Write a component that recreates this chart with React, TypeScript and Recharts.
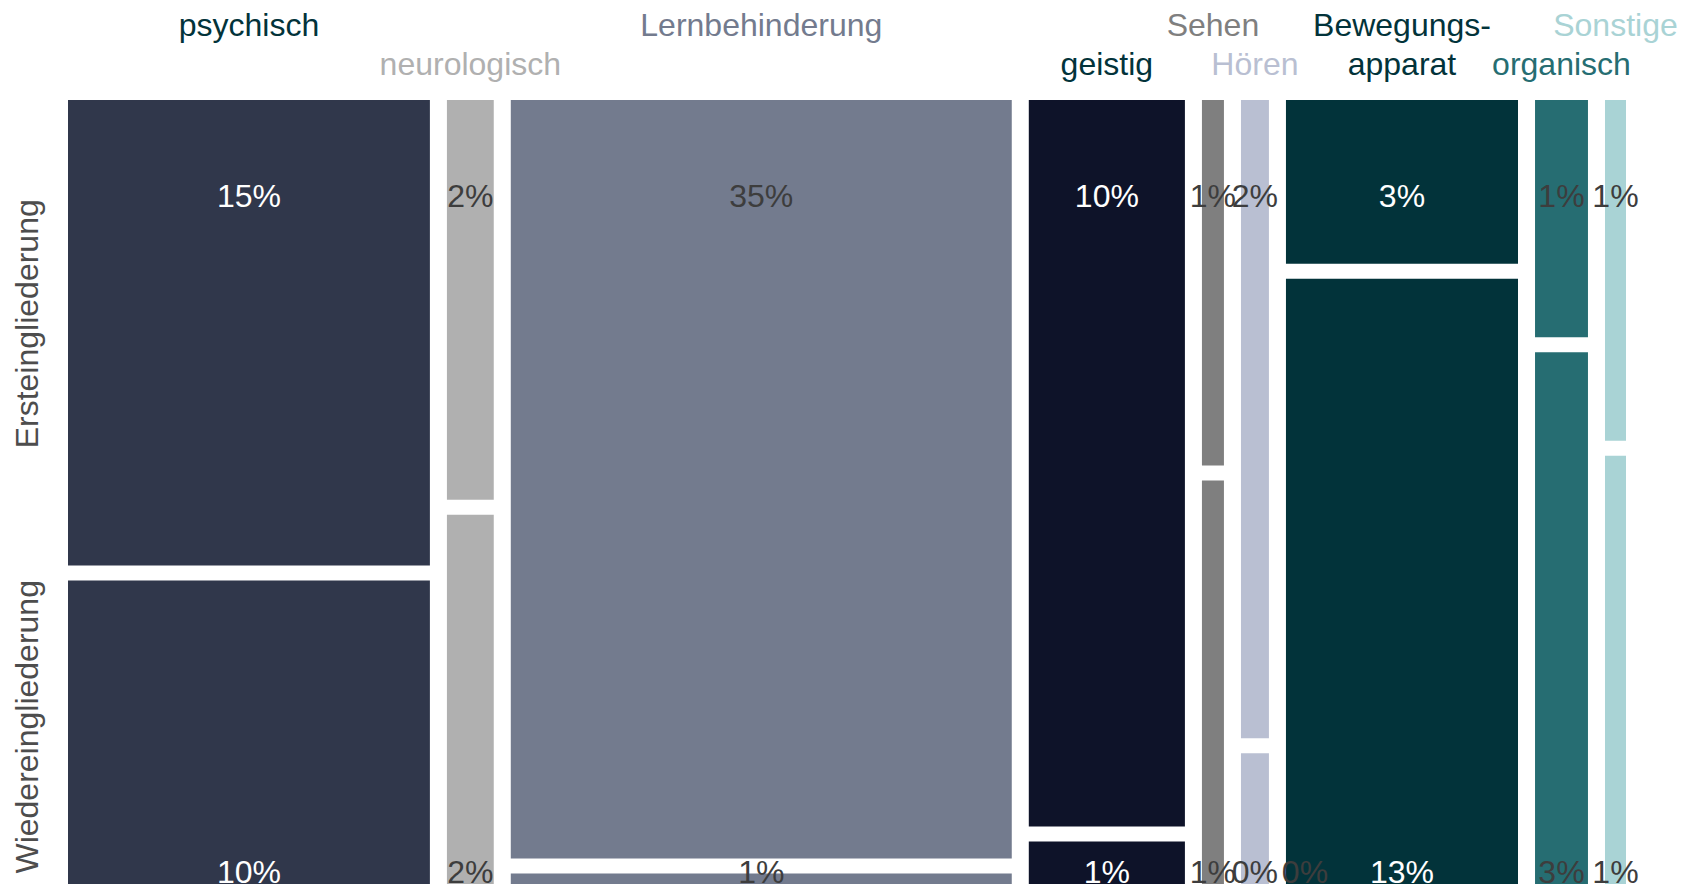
import React from "react";
import { ScatterChart, Scatter, XAxis, YAxis, ReferenceArea, Label } from "recharts";

// Anteile (%) nach Art der Behinderung
const categories = [
  "psychisch",
  "neurologisch",
  "Lernbehinderung",
  "geistig",
  "Sehen",
  "Hören",
  "Bewegungsapparat",
  "organisch",
  "Sonstige",
];
const headerLines = [
  ["psychisch"],
  ["neurologisch"],
  ["Lernbehinderung"],
  ["geistig"],
  ["Sehen"],
  ["Hören"],
  ["Bewegungs-", "apparat"],
  ["organisch"],
  ["Sonstige"],
];
const headerRow = [0, 1, 0, 1, 0, 1, 0, 1, 0];

const rows = ["Ersteingliederung", "Wiedereingliederung"];
const ersteingliederung = [15.3, 1.7, 34.5, 10.3, 0.73, 1.62, 3.45, 1.14, 0.65];
const wiedereingliederung = [10.2, 1.6, 0.8, 0.7, 0.82, 0.35, 12.9, 2.59, 0.83];
// eine leere Kategorie ohne Breite, nur mit Beschriftung in der unteren Zeile
const emptyBottom = [{ before: "Bewegungsapparat", value: 0 }];

const fills = ["#30374b", "#b0b0b0", "#737b8e", "#0e1329", "#7f7f7f", "#b9bfd2", "#02333a", "#266d72", "#a9d3d5"];
const headerColors = ["#02333a", "#b0b0b0", "#737b8e", "#02333a", "#7f7f7f", "#b9bfd2", "#02333a", "#266d72", "#a9d3d5"];
const textColors = ["#ffffff", "#3d3d3d", "#3d3d3d", "#ffffff", "#3d3d3d", "#3d3d3d", "#ffffff", "#3d3d3d", "#3d3d3d"];

const FONT = "'Liberation Sans', Arial, sans-serif";
const FS = 32;
const gapX = 1.2;
const gapY = 15 / 791;

const table = categories.map((name, i) => ({
  name,
  first: ersteingliederung[i],
  second: wiedereingliederung[i],
  total: ersteingliederung[i] + wiedereingliederung[i],
}));

let acc = 0;
const cols = table.map((d) => {
  const x1 = acc;
  acc += d.total + gapX;
  const f = d.first / d.total;
  return { ...d, x1, x2: x1 + d.total, split: 1 - f * (1 - gapY), lowTop: (1 - f) * (1 - gapY) };
});
const xMax = acc - gapX;
const centers = cols.map((c) => (c.x1 + c.x2) / 2);
const rowCenters = [(1 + cols[0].split) / 2, cols[0].lowTop / 2];
// Eckpunkte, damit die Achsen ihren Bereich kennen
const corners = [
  { x: 0, y: 0 },
  { x: xMax, y: 1 },
];

const pct = (v: number) => `${Math.round(v)}%`;

const cellLabel = (text: string, color: string, row: number, dx = 0) => (props: any) => {
  const vb = props.viewBox || {};
  const cx = vb.x + vb.width / 2 + dx;
  const cy = row === 0 ? vb.y + 96 : vb.y + vb.height - 19;
  return (
    <text x={cx} y={cy} textAnchor="middle" dominantBaseline="central" fill={color} fontSize={FS} fontFamily={FONT}>
      {text}
    </text>
  );
};

const HeaderTick = (props: any) => {
  const { x, payload } = props;
  let i = 0;
  centers.forEach((c, k) => {
    if (Math.abs(c - payload.value) < Math.abs(centers[i] - payload.value)) i = k;
  });
  const ys = [25, 64];
  return (
    <g>
      {headerLines[i].map((t, k) => (
        <text key={k} x={x} y={ys[headerRow[i] + k]} textAnchor="middle" dominantBaseline="central" fill={headerColors[i]} fontSize={FS} fontFamily={FONT}>
          {t}
        </text>
      ))}
    </g>
  );
};

const RowTick = (props: any) => {
  const { y, payload } = props;
  const r = payload.value > 0.5 ? 0 : 1;
  const cy = y - 9;
  return (
    <text x={27} y={cy} transform={`rotate(-90, 27, ${cy})`} textAnchor="middle" dominantBaseline="central" fill="#4d4d4d" fontSize={FS} fontFamily={FONT}>
      {rows[r]}
    </text>
  );
};

export default function App() {
  return (
    <div style={{ position: "fixed", left: 0, top: 0, width: 1700, height: 884, overflow: "hidden", background: "#fff" }}>
      <ScatterChart width={1700} height={900} margin={{ top: 0, right: 74, bottom: 9, left: 0 }}>
        <XAxis
          dataKey="x"
          type="number"
          orientation="top"
          domain={[0, xMax]}
          ticks={centers}
          interval={0}
          height={100}
          axisLine={false}
          tickLine={false}
          tick={<HeaderTick />}
        />
        <YAxis
          dataKey="y"
          type="number"
          domain={[0, 1]}
          ticks={rowCenters}
          interval={0}
          width={68}
          axisLine={false}
          tickLine={false}
          tick={<RowTick />}
        />
        <Scatter data={corners} fill="none" shape={() => <g />} isAnimationActive={false} />
        {cols.map((c, i) => (
          <ReferenceArea key={`a${i}`} x1={c.x1} x2={c.x2} y1={c.split} y2={1} fill={fills[i]} fillOpacity={1} stroke="none">
            <Label content={cellLabel(pct(c.first), textColors[i], 0)} />
          </ReferenceArea>
        ))}
        {cols.map((c, i) => (
          <ReferenceArea key={`b${i}`} x1={c.x1} x2={c.x2} y1={0} y2={c.lowTop} fill={fills[i]} fillOpacity={1} stroke="none">
            <Label content={cellLabel(pct(c.second), textColors[i], 1)} />
            {emptyBottom
              .filter((e) => e.before === c.name)
              .map((e, k) => (
                <Label key={k} content={cellLabel(pct(e.value), "#3d3d3d", 1, 19 - ((c.x2 - c.x1) * 1558) / xMax / 2)} />
              ))}
          </ReferenceArea>
        ))}
      </ScatterChart>
    </div>
  );
}
